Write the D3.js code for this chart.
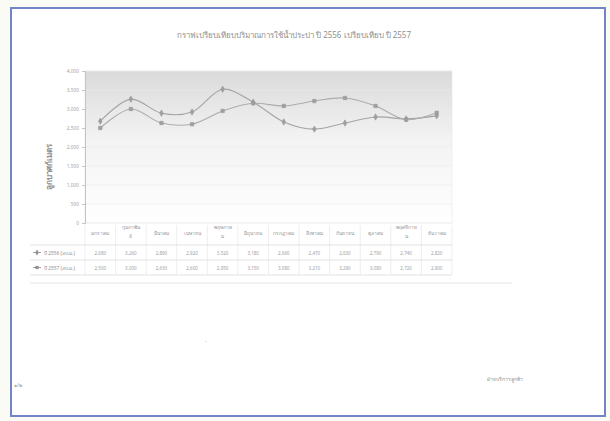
<!DOCTYPE html>
<html><head><meta charset="utf-8">
<script src="https://cdn.jsdelivr.net/npm/d3@7"></script>
<style>
html,body{margin:0;padding:0;background:#fbfbf6;}
svg{display:block;}
text{font-family:"Noto Sans","DejaVu Sans",sans-serif;}
</style></head>
<body>
<svg id="c" width="610" height="421"></svg>
<script>
const title = "กราฟเปรียบเทียบปริมาณการใช้น้ำประปา ปี 2556 เปรียบเทียบ ปี 2557";
const yTitle = "ลูกบาศก์เมตร";
const months = ["มกราคม","กุมภาพัน\nธ์","มีนาคม","เมษายน","พฤษภาค\nม","มิถุนายน","กรกฎาคม","สิงหาคม","กันยายน","ตุลาคม","พฤศจิกาย\nน","ธันวาคม"];
const seriesNames = ["ปี 2556 (ลบ.ม.)","ปี 2557 (ลบ.ม.)"];
const series1 = [2680,3260,2890,2920,3520,3180,2660,2470,2630,2790,2740,2820];
const series2 = [2500,3000,2630,2600,2950,3150,3080,3210,3290,3080,2720,2900];
const yTicks = [0,500,1000,1500,2000,2500,3000,3500,4000];

const svg = d3.select("#c");
svg.append("rect").attr("x",11).attr("y",8).attr("width",594).attr("height",408)
  .attr("fill","#fff").attr("stroke","#7384c8").attr("stroke-width",2);

const L=85,R=452,T=71,B=223;
const x = d3.scaleBand().domain(d3.range(months.length)).range([L,R]);
const y = d3.scaleLinear().domain([0,4000]).range([B,T]);

const defs = svg.append("defs");
const g = defs.append("linearGradient").attr("id","bg").attr("x1",0).attr("x2",0).attr("y1",0).attr("y2",1);
g.append("stop").attr("offset","0%").attr("stop-color","#dadada");
g.append("stop").attr("offset","45%").attr("stop-color","#f3f3f3");
g.append("stop").attr("offset","100%").attr("stop-color","#ffffff");
svg.append("rect").attr("x",L).attr("y",T).attr("width",R-L).attr("height",B-T).attr("fill","url(#bg)")
  .attr("stroke","#e6e6e6").attr("stroke-width",0.6);

svg.append("g").selectAll("line").data(yTicks).join("line")
  .attr("x1",L).attr("x2",R).attr("y1",d=>y(d)).attr("y2",d=>y(d))
  .attr("stroke","#e9e9e9").attr("stroke-width",0.6);

const ya = svg.append("g").attr("transform",`translate(${L},0)`)
  .call(d3.axisLeft(y).tickValues(yTicks).tickFormat(d3.format(",")).tickSize(3));
ya.select(".domain").attr("stroke","#c4c4c4");
ya.selectAll(".tick line").attr("stroke","#c4c4c4");
ya.selectAll("text").attr("fill","#a4a4a4").attr("font-size",4.8).attr("font-family","DejaVu Sans");

svg.append("text").attr("transform","translate(52,167) rotate(-90)").attr("text-anchor","middle")
  .attr("font-size",8).attr("font-weight","bold").attr("fill","#8e8e8e").text(yTitle);

svg.append("text").attr("x",294).attr("y",38).attr("text-anchor","middle")
  .attr("font-size",8).attr("fill","#909090").text(title);

const line = d3.line().x((d,i)=>x(i)+x.bandwidth()/2).y(d=>y(d)).curve(d3.curveCatmullRom.alpha(0.5));
const colors = ["#a4a4a4","#acacac"];
[series1,series2].forEach((s,k)=>{
  svg.append("path").datum(s).attr("d",line).attr("fill","none").attr("stroke",colors[k]).attr("stroke-width",1.1);
  svg.append("g").selectAll("path").data(s).join("path")
    .attr("transform",(d,i)=>`translate(${x(i)+x.bandwidth()/2},${y(d)})`)
    .attr("d",d3.symbol().type(k===0?d3.symbolDiamond:d3.symbolSquare).size(12))
    .attr("fill","#a0a0a0").attr("stroke","#949494").attr("stroke-width",0.5);
});

const tl = svg.append("g");
const tLeft=30;
[245,260,275].forEach(yy=>tl.append("line").attr("x1",tLeft).attr("x2",R).attr("y1",yy).attr("y2",yy).attr("stroke","#d6d6d6").attr("stroke-width",0.7));
tl.append("line").attr("x1",30).attr("x2",512).attr("y1",283).attr("y2",283).attr("stroke","#e4e4e4").attr("stroke-width",1);
d3.range(months.length+1).forEach(i=>{
  const xx = i<months.length ? x(i) : R;
  tl.append("line").attr("x1",xx).attr("x2",xx).attr("y1",225).attr("y2",275).attr("stroke","#e2e2e2").attr("stroke-width",0.6);
});
months.forEach((m,i)=>{
  const lines = m.split("\n");
  const cx = x(i)+x.bandwidth()/2;
  const t = tl.append("text").attr("text-anchor","middle").attr("font-size",4.8).attr("fill","#909090");
  lines.forEach((ln,j)=>{
    t.append("tspan").attr("x",cx).attr("y",lines.length>1 ? 229+j*9 : 235).text(ln);
  });
});
[series1,series2].forEach((s,k)=>{
  const cy = k===0 ? 254.5 : 269.5;
  tl.append("line").attr("x1",33).attr("x2",41).attr("y1",cy-2).attr("y2",cy-2).attr("stroke","#a0a0a0").attr("stroke-width",1);
  tl.append("path").attr("transform",`translate(37,${cy-2})`).attr("d",d3.symbol().type(k===0?d3.symbolDiamond:d3.symbolSquare).size(10)).attr("fill","#909090");
  tl.append("text").attr("x",44).attr("y",cy).attr("font-size",4.8).attr("fill","#909090").text(seriesNames[k]);
  s.forEach((v,i)=>{
    tl.append("text").attr("x",x(i)+x.bandwidth()/2).attr("y",cy).attr("text-anchor","middle")
      .attr("font-size",4.5).attr("fill","#a0a0a0").attr("font-family","DejaVu Sans").text(d3.format(",")(v));
  });
});

svg.append("text").attr("x",205).attr("y",343).attr("font-size",6).attr("fill","#b0b0b0").text("-");
svg.append("text").attr("x",14).attr("y",387).attr("font-size",5).attr("fill","#909090").text("๑/๒");
svg.append("text").attr("x",487).attr("y",381).attr("font-size",5).attr("fill","#909090").text("ฝ่ายบริการลูกค้า");
</script>
</body></html>
